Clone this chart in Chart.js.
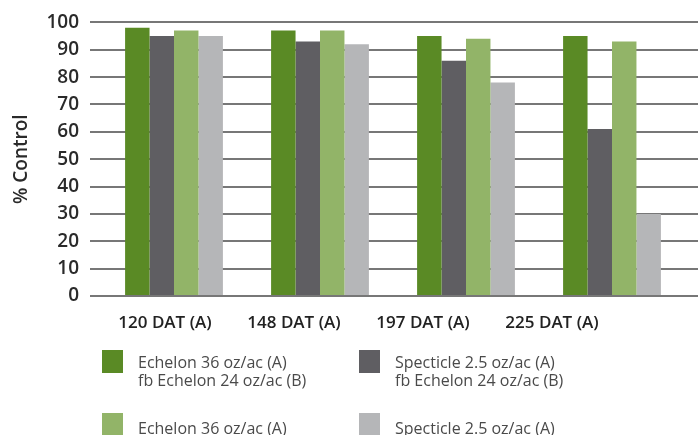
<!DOCTYPE html>
<html>
<head>
<meta charset="utf-8">
<script src="https://cdn.jsdelivr.net/npm/chart.js@4/dist/chart.umd.min.js"></script>
<style>
    html, body {
        margin: 0;
        padding: 0;
        background: #fff;
    }
    #wrap {
        position: relative;
        width: 698px;
        height: 435px;
        overflow: hidden;
    }
    canvas {
        position: absolute;
        left: 0;
        top: 0;
    }
    .box {
        position: absolute;
        width: 21px;
        height: 23px;
    }
    .txt {
        position: absolute;
        font-family: "Open Sans", sans-serif;
        font-size: 16px;
        line-height: 18px;
        color: #4a4a4a;
        white-space: nowrap;
    }
</style>
</head>
<body>
<div id="wrap">
    <canvas id="chart" width="698" height="435"></canvas>
    <div class="box" style="left:102px;top:350px;background:#5a8a25"></div>
    <div class="txt" style="left:138px;top:353px">Echelon 36 oz/ac (A)<br>fb Echelon 24 oz/ac (B)</div>
    <div class="box" style="left:359px;top:350px;background:#5f5e62"></div>
    <div class="txt" style="left:395px;top:353px">Specticle 2.5 oz/ac (A)<br>fb Echelon 24 oz/ac (B)</div>
    <div class="box" style="left:102px;top:413px;background:#92b468"></div>
    <div class="txt" style="left:138px;top:419px">Echelon 36 oz/ac (A)</div>
    <div class="box" style="left:359px;top:413px;background:#b5b6b8"></div>
    <div class="txt" style="left:395px;top:419px">Specticle 2.5 oz/ac (A)</div>
</div>
<script>
// values
const categories = ["120 DAT (A)", "148 DAT (A)", "197 DAT (A)", "225 DAT (A)"];
const echelonFb = [98, 97, 95, 95];
const specticleFb = [95, 93, 86, 61];
const echelon = [97, 97, 94, 93];
const specticle = [95, 92, 78, 30];
const yTicks = [0, 10, 20, 30, 40, 50, 60, 70, 80, 90, 100];

const GRID = "#777";
const FONT = "'Open Sans', sans-serif";

// stretch the horizontal grid lines out to the right edge of the picture
const gridToEdge = {
    id: "gridToEdge",
    beforeDatasetsDraw(chart) {
        const y = chart.scales.y;
        const ctx = chart.ctx;
        ctx.save();
        ctx.strokeStyle = GRID;
        ctx.lineWidth = 2;
        yTicks.forEach((t) => {
            const py = Math.round(y.getPixelForValue(t));
            ctx.beginPath();
            ctx.moveTo(chart.chartArea.right, py);
            ctx.lineTo(chart.width, py);
            ctx.stroke();
        });
        ctx.restore();
    },
};

new Chart(document.getElementById("chart").getContext("2d"), {
    type: "bar",
    data: {
        labels: categories,
        datasets: [
            { label: "Echelon 36 oz/ac (A) fb Echelon 24 oz/ac (B)", data: echelonFb, backgroundColor: "#5a8a25" },
            { label: "Specticle 2.5 oz/ac (A) fb Echelon 24 oz/ac (B)", data: specticleFb, backgroundColor: "#5f5e62" },
            { label: "Echelon 36 oz/ac (A)", data: echelon, backgroundColor: "#92b468" },
            { label: "Specticle 2.5 oz/ac (A)", data: specticle, backgroundColor: "#b5b6b8" },
        ],
    },
    options: {
        responsive: false,
        animation: false,
        categoryPercentage: 0.67,
        barPercentage: 1.0,
        layout: {
            padding: { top: 20, left: 0, right: 13, bottom: 99 },
        },
        plugins: {
            legend: { display: false },
            tooltip: { enabled: false },
        },
        scales: {
            x: {
                display: false,
            },
            // label axis: the printed labels sit a bit tighter than the bar groups
            xl: {
                type: "linear",
                position: "bottom",
                bounds: "data",
                offset: false,
                min: -0.496,
                max: 4.031,
                afterBuildTicks: (scale) => {
                    scale.ticks = categories.map((c, i) => ({ value: i }));
                },
                afterFit: (scale) => {
                    scale.height = 40;
                },
                grid: { display: false, drawTicks: false, offset: false },
                border: { display: false },
                ticks: {
                    padding: 17,
                    color: "#222",
                    autoSkip: false,
                    maxRotation: 0,
                    font: { family: FONT, size: 17, weight: "600" },
                    callback: (v) => categories[v],
                },
            },
            y: {
                min: 0,
                max: 100,
                afterBuildTicks: (scale) => {
                    scale.ticks = yTicks.map((v) => ({ value: v }));
                },
                afterFit: (scale) => {
                    scale.width = 101;
                },
                grid: {
                    color: GRID,
                    lineWidth: 2,
                    tickLength: 11,
                    tickColor: GRID,
                },
                border: { display: false },
                ticks: {
                    padding: 11,
                    color: "#2a2a2a",
                    font: { family: FONT, size: 19, weight: "600" },
                },
                title: {
                    display: true,
                    text: "% Control",
                    color: "#2a2a2a",
                    font: { family: FONT, size: 19, weight: "600" },
                    padding: { top: 10, bottom: 0 },
                },
            },
        },
    },
    plugins: [gridToEdge],
});
</script>
</body>
</html>
